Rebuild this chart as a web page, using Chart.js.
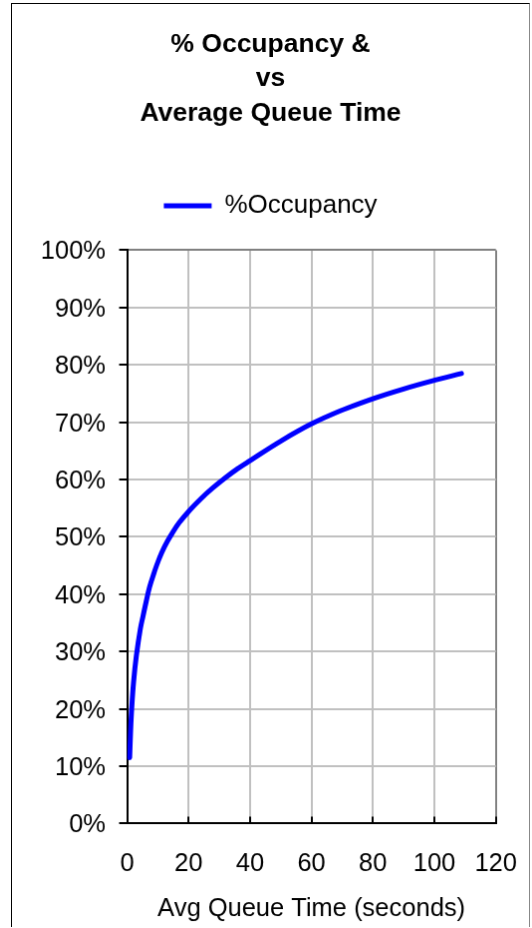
<!DOCTYPE html>
<html>
<head>
<meta charset="utf-8">
<title>% Occupancy vs Average Queue Time</title>
<script src="https://cdn.jsdelivr.net/npm/chart.js@4/dist/chart.umd.min.js"></script>
<style>
  html, body { margin: 0; padding: 0; background: #fff; }
  #chart {
    position: absolute;
    left: 11px;
    top: 3px;
    border-left: 1px solid #000;
    border-top: 1px solid #000;
    border-right: 1px solid #888;
  }
</style>
</head>
<body>
<canvas id="chart" width="519" height="924"></canvas>
<script>
// Average queue time (seconds) and the matching occupancy (%)
const queueTime = [0.84, 1.17, 1.5, 2.1, 3.0, 4.3, 5.2, 6.3, 7.3, 8.7, 10.3, 12.2, 14.3, 17.0,
                   20.3, 24.1, 27.8, 32.2, 36, 40, 50, 60, 70, 80, 90, 100, 108.8];
const occupancy = [11.5, 16.4, 20.0, 24.6, 29.2, 33.9, 36.2, 38.9, 41.2, 43.6, 46.0, 48.3, 50.3, 52.5,
                   54.6, 56.7, 58.5, 60.4, 61.9, 63.3, 66.7, 69.7, 72.1, 74.1, 75.8, 77.3, 78.5];

const titleLines = ['% Occupancy &', 'vs', 'Average Queue Time'];
const seriesName = '%Occupancy';
const xTitle = 'Avg Queue Time (seconds)';
const xTicks = { min: 0, max: 120, step: 20 };
const yTicks = { min: 0, max: 100, step: 10 };

Chart.defaults.font.family = "'Liberation Sans', Arial, sans-serif";
Chart.defaults.color = '#000';

const gridColor = '#c0c0c0';
const frameColor = '#808080';

// empty axis used only to reserve space next to the plot
const spacer = (position, size) => ({
  type: 'linear',
  position,
  display: true,
  grid: { display: false, drawTicks: false },
  ticks: { display: false },
  border: { display: false },
  afterFit: s => {
    if (s.isHorizontal()) s.height = size; else s.width = size;
  }
});

new Chart(document.getElementById('chart'), {
  type: 'line',
  data: {
    datasets: [{
      label: seriesName,
      data: queueTime.map((t, i) => ({ x: t, y: occupancy[i] })),
      borderColor: '#0000ff',
      backgroundColor: '#0000ff',
      borderWidth: 5,
      borderCapStyle: 'round',
      borderJoinStyle: 'round',
      pointRadius: 0,
      pointHoverRadius: 0,
      tension: 0.4,
      fill: false,
      xAxisID: 'x',
      yAxisID: 'y'
    }]
  },
  options: {
    responsive: false,
    animation: false,
    devicePixelRatio: 1,
    layout: { padding: 0 },
    plugins: {
      title: {
        display: true,
        text: titleLines,
        color: '#000',
        font: { size: 26.5, weight: 'bold', lineHeight: 1.302 },
        padding: { top: 23.4, bottom: 52.1 }
      },
      legend: {
        display: true,
        position: 'top',
        labels: {
          usePointStyle: true,
          pointStyle: 'line',
          pointStyleWidth: 48,
          padding: 10,
          color: '#000',
          font: { size: 26 }
        }
      },
      tooltip: { enabled: false }
    },
    scales: {
      x: {
        type: 'linear',
        position: 'bottom',
        min: xTicks.min,
        max: xTicks.max,
        ticks: {
          stepSize: xTicks.step,
          padding: 12,
          font: { size: 25.5, lineHeight: 2.8 },
          color: '#000',
          maxRotation: 0
        },
        grid: {
          color: c => c.tick && c.tick.value === xTicks.min ? '#000' :
                      (c.tick && c.tick.value === xTicks.max ? frameColor : gridColor),
          lineWidth: 2,
          tickLength: -7,
          tickColor: '#000',
          tickWidth: 2
        },
        border: { display: true, color: '#000', width: 2 },
        title: {
          display: true,
          text: xTitle,
          font: { size: 25.5 },
          color: '#000',
          padding: { top: 0, bottom: 3 }
        },
        afterFit: s => { s.height = 103.6; }
      },
      gapTop: spacer('top', 21.4),
      gapRight: spacer('right', 33.3),
      y: {
        type: 'linear',
        position: 'left',
        min: yTicks.min,
        max: yTicks.max,
        ticks: {
          stepSize: yTicks.step,
          padding: 13.5,
          labelOffset: 2,
          font: { size: 25.5 },
          color: '#000',
          callback: v => v + '%'
        },
        grid: {
          color: c => c.tick && c.tick.value === yTicks.min ? '#000' :
                      (c.tick && c.tick.value === yTicks.max ? frameColor : gridColor),
          lineWidth: 2,
          tickLength: 8,
          tickColor: '#000',
          tickWidth: 2
        },
        border: { display: true, color: '#000', width: 2 },
        afterFit: s => { s.width = 115.5; }
      }
    }
  }
});
</script>
</body>
</html>
